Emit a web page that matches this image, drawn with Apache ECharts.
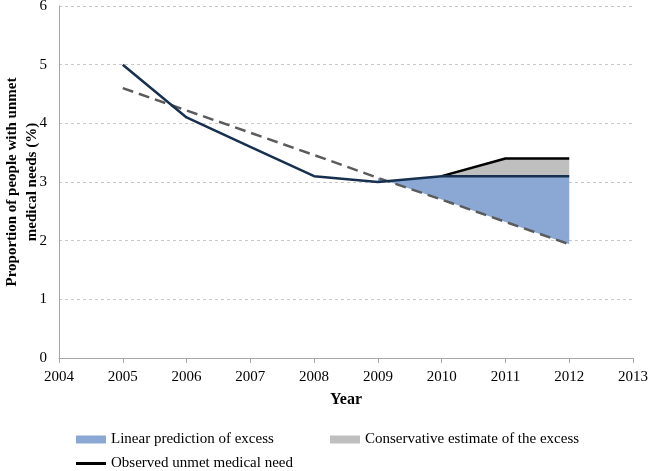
<!DOCTYPE html>
<html>
<head>
<meta charset="utf-8">
<script src="https://cdn.jsdelivr.net/npm/echarts@6/dist/echarts.min.js"></script>
<style>
  html, body { margin: 0; padding: 0; background: #fff; }
  #main { width: 650px; height: 471px; }
</style>
</head>
<body>
<div id="main"></div>
<script>
// values
var yearLabels = ['2004', '2005', '2006', '2007', '2008', '2009', '2010', '2011', '2012', '2013'];
var observed = [null, 5.0, 4.1, 3.6, 3.1, 3.0, 3.1, 3.1, 3.1, null];
var trend = [null, 4.6, 4.22, 3.84, 3.46, 3.07, 2.7, 2.32, 1.94, null];
var conservative = [null, null, null, null, null, null, 3.1, 3.4, 3.4, null];
var yTicks = [0, 1, 2, 3, 4, 5, 6];
var blueFrom = '2009';   // shading of the linear prediction starts here

var FONT = 'Liberation Serif';

// build stacked pieces for the shaded areas
var startIdx = yearLabels.indexOf(blueFrom);
var blueBase = [], blueDiff = [], greyBase = [], greyDiff = [];
for (var i = 0; i < yearLabels.length; i++) {
  var inBlue = i >= startIdx && observed[i] != null && trend[i] != null;
  blueBase.push(inBlue ? trend[i] : '-');
  blueDiff.push(inBlue ? +(observed[i] - trend[i]).toFixed(3) : '-');
  var inGrey = conservative[i] != null;
  greyBase.push(inGrey ? observed[i] : '-');
  greyDiff.push(inGrey ? +(conservative[i] - observed[i]).toFixed(3) : '-');
}
var asLine = function (arr) { return arr.map(function (v) { return v == null ? '-' : v; }); };

var chart = echarts.init(document.getElementById('main'));
var option = {
  animation: false,
  textStyle: { fontFamily: FONT },
  grid: { left: 59, right: 17, top: 6, bottom: 113, outerBoundsMode: 'none', containLabel: false },
  xAxis: {
    type: 'category',
    data: yearLabels,
    boundaryGap: false,
    name: 'Year',
    nameLocation: 'middle',
    nameGap: 34,
    nameMoveOverlap: false,
    nameTextStyle: { fontFamily: FONT, fontSize: 16, fontWeight: 'bold', color: '#000' },
    axisLine: { lineStyle: { color: '#a6a6a6', width: 1 } },
    axisTick: { show: true, length: 5, lineStyle: { color: '#a6a6a6' } },
    axisLabel: { fontFamily: FONT, fontSize: 15, color: '#000', margin: 12 },
    splitLine: { show: false }
  },
  yAxis: {
    type: 'value',
    min: yTicks[0], max: yTicks[yTicks.length - 1], interval: 1,
    name: 'Proportion of people with unmet\nmedical needs (%)',
    nameLocation: 'middle',
    nameGap: 17,
    nameMoveOverlap: false,
    nameTextStyle: { fontFamily: FONT, fontSize: 15, fontWeight: 'bold', color: '#000', lineHeight: 20 },
    axisLine: { show: true, lineStyle: { color: '#a6a6a6', width: 1 } },
    axisTick: { show: false },
    axisLabel: { fontFamily: FONT, fontSize: 15, color: '#000', margin: 12 },
    splitLine: { lineStyle: { color: '#c8c8c8', type: [3, 3], width: 1 } }
  },
  legend: [
    {
      left: 71, top: 427, itemWidth: 30, itemHeight: 8, icon: 'rect',
      textStyle: { fontFamily: FONT, fontSize: 15, color: '#000' },
      data: ['Linear prediction of excess']
    },
    {
      left: 325, top: 427, itemWidth: 30, itemHeight: 8, icon: 'rect',
      textStyle: { fontFamily: FONT, fontSize: 15, color: '#000' },
      data: ['Conservative estimate of the excess']
    },
    {
      left: 71, top: 451, itemWidth: 30, itemHeight: 3, icon: 'rect',
      textStyle: { fontFamily: FONT, fontSize: 15, color: '#000' },
      data: ['Observed unmet medical need']
    }
  ],
  series: [
    {
      name: 'blueBase', type: 'line', stack: 'blue', stackStrategy: 'all',
      data: blueBase, symbol: 'none', lineStyle: { opacity: 0 }, silent: true, z: 1
    },
    {
      name: 'Linear prediction of excess', type: 'line', stack: 'blue', stackStrategy: 'all',
      data: blueDiff, symbol: 'none', lineStyle: { width: 0, opacity: 0 },
      itemStyle: { color: '#8aa8d3' },
      areaStyle: { color: '#8aa8d3', opacity: 1 }, z: 1
    },
    {
      name: 'greyBase', type: 'line', stack: 'grey',
      data: greyBase, symbol: 'none', lineStyle: { opacity: 0 }, silent: true, z: 1
    },
    {
      name: 'Conservative estimate of the excess', type: 'line', stack: 'grey',
      data: greyDiff, symbol: 'none', lineStyle: { width: 0, opacity: 0 },
      itemStyle: { color: '#bfbfbf' },
      areaStyle: { color: '#bfbfbf', opacity: 1 }, z: 1
    },
    {
      name: 'trend', type: 'line', data: asLine(trend), symbol: 'none',
      lineStyle: { color: '#5b5b5b', width: 2.5, type: [11, 6] }, z: 3
    },
    {
      name: 'Observed unmet medical need', type: 'line', data: asLine(conservative), symbol: 'none',
      itemStyle: { color: '#000' },
      lineStyle: { color: '#000', width: 2.5 }, z: 4
    },
    {
      name: 'observedNavy', type: 'line', data: asLine(observed), symbol: 'none',
      lineStyle: { color: '#17304f', width: 2.5 }, z: 5
    }
  ]
};
chart.setOption(option);
</script>
</body>
</html>
